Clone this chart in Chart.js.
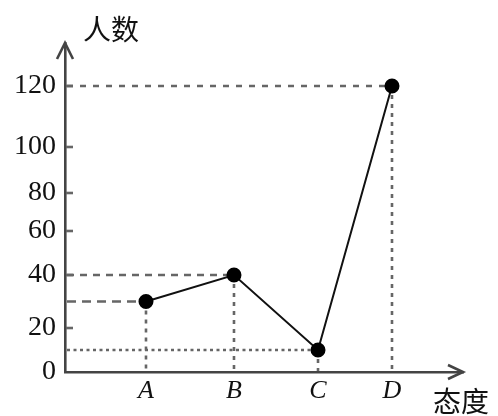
<!DOCTYPE html>
<html>
<head>
<meta charset="utf-8">
<script src="https://cdn.jsdelivr.net/npm/chart.js@4/dist/chart.umd.min.js"></script>
<style>
html,body{margin:0;padding:0;background:#fff;}
#wrap{width:498px;height:416px;}
</style>
</head>
<body>
<div id="wrap"><canvas id="c" width="498" height="416"></canvas></div>
<script>
// ---- data ----
const categories = ['A', 'B', 'C', 'D'];
const values = [30, 40, 10, 120];
const yTickValues = [0, 20, 40, 60, 80, 100, 120];
const yAxisTitle = '人数';
const xAxisTitle = '态度';

// ---- piecewise (hand-drawn, non-uniform) scale ----
class PiecewiseScale extends Chart.LinearScale {
  _knots() {
    const o = this.chart.config.options.scales[this.id];
    return [o.knotValues, o.knotFractions];
  }
  getPixelForValue(value) {
    const [kv, kf] = this._knots();
    let f;
    if (value <= kv[0]) f = kf[0];
    else if (value >= kv[kv.length - 1]) f = kf[kf.length - 1];
    else {
      for (let i = 1; i < kv.length; i++) {
        if (value <= kv[i]) {
          f = kf[i - 1] + (value - kv[i - 1]) / (kv[i] - kv[i - 1]) * (kf[i] - kf[i - 1]);
          break;
        }
      }
    }
    return this.getPixelForDecimal(f);
  }
  getValueForPixel(pixel) {
    const [kv, kf] = this._knots();
    const f = this.getDecimalForPixel(pixel);
    if (f <= kf[0]) return kv[0];
    for (let i = 1; i < kf.length; i++) {
      if (f <= kf[i]) return kv[i - 1] + (f - kf[i - 1]) / (kf[i] - kf[i - 1]) * (kv[i] - kv[i - 1]);
    }
    return kv[kv.length - 1];
  }
}
PiecewiseScale.id = 'piecewise';
PiecewiseScale.defaults = {};
Chart.register(PiecewiseScale);

const AXIS = '#444';
const GUIDE = '#666';

const guidePlugin = {
  id: 'guides',
  beforeDatasetsDraw(chart) {
    const {ctx, scales: {x, y}} = chart;
    const x0 = x.getPixelForValue(0);
    const y0 = y.getPixelForValue(0);
    const hDash = [[9, 6], [7, 6], [3, 3.5], [6, 7]];
    ctx.save();
    ctx.strokeStyle = GUIDE;
    ctx.lineWidth = 2.6;
    values.forEach((v, i) => {
      const px = x.getPixelForValue(i + 1);
      const py = y.getPixelForValue(v);
      ctx.setLineDash(hDash[i]);
      ctx.beginPath(); ctx.moveTo(x0 + 2, py); ctx.lineTo(px, py); ctx.stroke();
      ctx.setLineDash([4, 5]);
      ctx.beginPath(); ctx.moveTo(px, py); ctx.lineTo(px, y0 - 1); ctx.stroke();
    });
    // small tick marks on the y axis
    ctx.setLineDash([]);
    yTickValues.forEach(t => {
      if (t === 0) return;
      const py = y.getPixelForValue(t);
      ctx.beginPath(); ctx.moveTo(x0 + 1, py); ctx.lineTo(x0 + 8, py); ctx.stroke();
    });
    ctx.restore();
  },
  afterDraw(chart) {
    const {ctx, chartArea: a} = chart;
    ctx.save();
    ctx.strokeStyle = AXIS;
    ctx.lineWidth = 2.6;
    ctx.setLineDash([]);
    // y arrow
    ctx.beginPath();
    ctx.moveTo(a.left - 8, a.top + 16); ctx.lineTo(a.left, a.top); ctx.lineTo(a.left + 8, a.top + 16);
    ctx.stroke();
    // x arrow
    ctx.beginPath();
    ctx.moveTo(a.right - 15, a.bottom - 7); ctx.lineTo(a.right, a.bottom); ctx.lineTo(a.right - 15, a.bottom + 7);
    ctx.stroke();
    // titles
    ctx.fillStyle = '#111';
    ctx.font = '28px "Noto Sans CJK SC"';
    ctx.textBaseline = 'middle';
    ctx.textAlign = 'left';
    ctx.fillText(yAxisTitle, 83, 29);
    ctx.fillText(xAxisTitle, 433, 401);
    ctx.restore();
  }
};

new Chart(document.getElementById('c'), {
  type: 'line',
  data: {
    datasets: [{
      data: categories.map((c, i) => ({x: i + 1, y: values[i]})),
      borderColor: '#111',
      borderWidth: 2,
      pointRadius: 6.5,
      pointBackgroundColor: '#000',
      pointBorderColor: '#000',
      tension: 0,
      clip: false
    }]
  },
  options: {
    responsive: false,
    animation: false,
    devicePixelRatio: 1,
    layout: {padding: {top: 43, right: 35, left: 0, bottom: 0}},
    plugins: {legend: {display: false}, tooltip: {enabled: false}},
    scales: {
      x: {
        type: 'piecewise',
        min: 0, max: 5,
        knotValues: [0, 1, 2, 3, 4, 5],
        knotFractions: [0, 0.2035, 0.4246, 0.6357, 0.8216, 1],
        afterBuildTicks: s => { s.ticks = categories.map((c, i) => ({value: i + 1})); },
        afterFit: s => { s.height = 44; },
        grid: {display: false, drawTicks: false},
        border: {display: true, color: AXIS, width: 2.6},
        ticks: {
          autoSkip: false, maxRotation: 0, padding: 4,
          color: '#111',
          font: {family: 'Liberation Serif', size: 26, style: 'italic'},
          callback: v => categories[v - 1]
        }
      },
      y: {
        type: 'piecewise',
        min: 0, max: 140,
        knotValues: [0, 20, 40, 60, 80, 100, 120, 140],
        knotFractions: [0, 0.1337, 0.2948, 0.4286, 0.5441, 0.6839, 0.8693, 1],
        afterBuildTicks: s => { s.ticks = yTickValues.map(v => ({value: v})); },
        afterFit: s => { s.width = 65; },
        grid: {display: false, drawTicks: false},
        border: {display: true, color: AXIS, width: 2.6},
        ticks: {
          autoSkip: false, padding: 9,
          color: '#111',
          font: {family: 'Liberation Serif', size: 28},
          callback: v => String(v)
        }
      }
    }
  },
  plugins: [guidePlugin]
});
</script>
</body>
</html>
